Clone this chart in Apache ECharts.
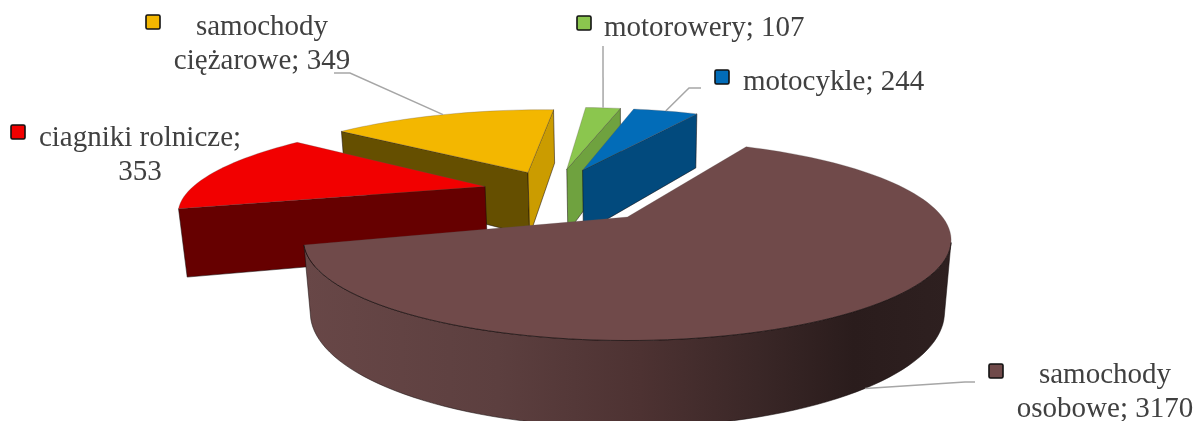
<!DOCTYPE html>
<html>
<head>
<meta charset="utf-8">
<style>
  html, body { margin: 0; padding: 0; background: #fff; }
  #chart { width: 1200px; height: 421px; }
</style>
</head>
<body>
<div id="chart"></div>
<script src="https://cdn.jsdelivr.net/npm/echarts@6/dist/echarts.min.js"></script>
<script>
// clockwise from the first cut on the left
const categories = ['ciagniki rolnicze', 'samochody ciężarowe', 'motorowery', 'motocykle', 'samochody osobowe']
const values = [353, 349, 107, 244, 3170]

// the slices in the reference are not quite proportional to their labels
const sweepTweak = [1.75, 1.83, 0.95, 0.78, 0.84]
const explode = [0.245, 0.25, 0.27, 0.27, 0.39]
const drawOrder = [3, 2, 0, 1, 4]

const topColors = ['#f20000', '#f3b700', '#8bc64e', '#026cb8', '#704a4a']
const startWallColors = ['#660000', '#654f00', '#6fa23f', '#024a7d', '#3a2626']
const endWallColors = ['#660000', '#cb9c00', '#6fa23f', '#024a7d', '#3a2626']
const rimColors = ['#660000', '#cb9c00', '#6fa23f', '#024a7d', {
  type: 'linear', x: 0, y: 0, x2: 1, y2: 0,
  colorStops: [
    { offset: 0, color: '#684747' },
    { offset: 0.3, color: '#5c3f3f' },
    { offset: 0.52, color: '#4d3232' },
    { offset: 0.7, color: '#3a2727' },
    { offset: 0.85, color: '#2a1c1c' },
    { offset: 1, color: '#2e2020' }
  ]
}]

// label layout, break: where the text wraps
const labelLayout = [
  { key: [10, 124], x: 140, y: 138, align: 'center', brk: 'value' },
  { key: [145, 14], x: 262, y: 27, align: 'center', brk: 'name', leader: [[350, 73], [334, 73]], z: 0 },
  { key: [576, 15], x: 604, y: 28, align: 'left', leader: [[603, 46]], z: 0 },
  { key: [714, 69], x: 743, y: 82, align: 'left', leader: [[689, 88], [701, 88]], z: 0 },
  { key: [988, 363], x: 1105, y: 375, align: 'center', brk: 'name', leader: [[965, 382], [975, 382]], z: 1 }
]

// camera: origin on screen, x/y scale, depth, perspective
const cam = { ox: 628, oy: 217, fx: 315, fy: 95, h: 71, persp: 0.23, perspZ: 0.02 }
const center = [-0.25, 0.3]
const firstAngle = -105
const total = values.reduce((a, b) => a + b, 0)

const project = (x, y, z) => {
  const den = 1 + cam.persp * y + cam.perspZ * z
  return [cam.ox + cam.fx * x / den, cam.oy + (-cam.fy * y + cam.h * z) / den]
}

const rad = (d) => d * Math.PI / 180

const sweeps = values.map((v, i) => v / total * 360 * sweepTweak[i])
const starts = sweeps.map((s, i) => firstAngle + sweeps.slice(0, i).reduce((a, b) => a + b, 0))

const sliceApex = (i) => {
  const mid = rad(starts[i] + sweeps[i] / 2)
  return [center[0] + explode[i] * Math.sin(mid), center[1] + explode[i] * Math.cos(mid)]
}

const rimPoint = (i, deg) => {
  const a = sliceApex(i)
  return [a[0] + Math.sin(rad(deg)), a[1] + Math.cos(rad(deg))]
}

const signedArea = (pts) => {
  let s = 0
  pts.forEach((p, k) => {
    const q = pts[(k + 1) % pts.length]
    s += p[0] * q[1] - q[0] * p[1]
  })
  return s / 2
}

const edgeStyle = { stroke: 'rgba(20,10,10,0.75)', lineWidth: 0.7 }

function renderSlice(params) {
  const i = params.dataIndex
  const base = drawOrder[i] * 10
  const apex = sliceApex(i)
  const steps = Math.max(4, Math.ceil(sweeps[i] / 2))
  const arc = []
  for (let k = 0; k <= steps; k++) {
    arc.push(rimPoint(i, starts[i] + sweeps[i] * k / steps))
  }

  const children = []
  const wall = (a, b, fill) => {
    const pts = [project(a[0], a[1], 0), project(b[0], b[1], 0), project(b[0], b[1], 1), project(a[0], a[1], 1)]
    if (signedArea(pts) < 0) {
      children.push({ type: 'polygon', z2: base + 1, shape: { points: pts }, style: { fill, ...edgeStyle } })
    }
  }
  wall(apex, arc[0], startWallColors[i])
  wall(arc[steps], apex, endWallColors[i])

  // outer wall, only the stretch that faces the camera
  const upper = []
  const lower = []
  for (let k = 0; k < steps; k++) {
    const a = arc[k]
    const b = arc[k + 1]
    const quad = [project(a[0], a[1], 0), project(b[0], b[1], 0), project(b[0], b[1], 1), project(a[0], a[1], 1)]
    if (signedArea(quad) < 0) {
      if (!upper.length) {
        upper.push(quad[0])
        lower.push(quad[3])
      }
      upper.push(quad[1])
      lower.push(quad[2])
    }
  }
  if (upper.length) {
    children.push({
      type: 'polygon',
      z2: base + 2,
      shape: { points: upper.concat(lower.slice().reverse()) },
      style: { fill: rimColors[i], ...edgeStyle }
    })
  }

  const topPts = [project(apex[0], apex[1], 0)].concat(arc.map((p) => project(p[0], p[1], 0)))
  children.push({
    type: 'polygon',
    z2: base + 3,
    shape: { points: topPts },
    style: { fill: topColors[i], stroke: 'rgba(90,80,80,0.45)', lineWidth: 0.6 }
  })
  if (upper.length) {
    children.push({
      type: 'polyline',
      z2: base + 4,
      shape: { points: upper },
      style: { fill: null, stroke: 'rgba(20,10,10,0.85)', lineWidth: 0.8 }
    })
  }

  // label, key and leader
  const lay = labelLayout[i]
  if (lay.leader) {
    const rim = rimPoint(i, starts[i] + sweeps[i] / 2)
    children.push({
      type: 'polyline',
      z2: 100,
      shape: { points: [project(rim[0], rim[1], lay.z)].concat(lay.leader) },
      style: { fill: null, stroke: '#a6a6a6', lineWidth: 1.5 }
    })
  }
  children.push({
    type: 'rect',
    z2: 101,
    shape: { x: lay.key[0] + 1, y: lay.key[1] + 1, width: 14, height: 14, r: 1.5 },
    style: { fill: topColors[i], stroke: '#111', lineWidth: 1.6 }
  })
  let lines = [`${categories[i]}; ${values[i]}`]
  if (lay.brk === 'value') lines = [`${categories[i]};`, `${values[i]}`]
  if (lay.brk === 'name') {
    const cut = categories[i].indexOf(' ')
    lines = [categories[i].slice(0, cut), `${categories[i].slice(cut + 1)}; ${values[i]}`]
  }
  lines.forEach((line, k) => {
    children.push({
      type: 'text',
      z2: 102,
      style: {
        text: line,
        x: lay.x,
        y: lay.y + k * 34,
        fill: '#404040',
        font: '29px "Liberation Serif", "Times New Roman", serif',
        textAlign: lay.align,
        textVerticalAlign: 'middle'
      }
    })
  })
  return { type: 'group', children }
}

const chart = echarts.init(document.getElementById('chart'), null, { renderer: 'canvas' })
chart.setOption({
  animation: false,
  backgroundColor: '#fff',
  series: [{
    type: 'custom',
    coordinateSystem: 'none',
    renderItem: renderSlice,
    data: values,
    silent: true
  }]
})
</script>
</body>
</html>
